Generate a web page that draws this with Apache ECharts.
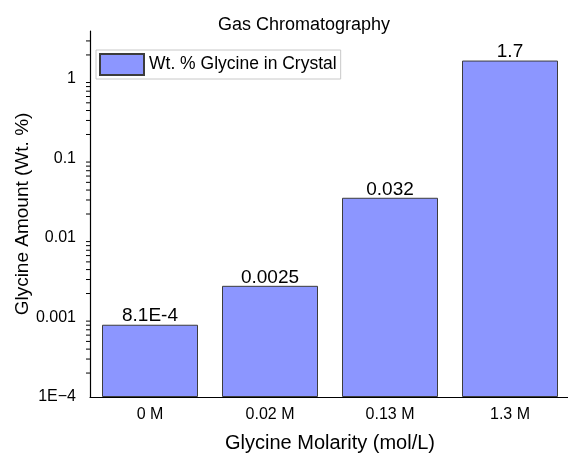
<!DOCTYPE html>
<html lang="en">
<head>
    <meta charset="UTF-8">
    <title>Gas Chromatography</title>
    <style>
        html, body { margin: 0; padding: 0; background: #fff; }
        #chart { width: 568px; height: 453px; }
    </style>
</head>
<body>
    <div id="chart"></div>
    <script src="https://cdn.jsdelivr.net/npm/echarts@6/dist/echarts.min.js"></script>
    <script type="text/javascript">
        // data
        var molarity = ['0 M', '0.02 M', '0.13 M', '1.3 M'];
        var glycineWt = [8.1e-4, 0.0025, 0.032, 1.7];
        var barLabels = ['8.1E-4', '0.0025', '0.032', '1.7'];
        var yTickLabels = ['1E\u22124', '0.001', '0.01', '0.1', '1'];
        // minor ticks of the log axis (2..9 in each decade)
        var yMinorTicks = [
            2e-4, 3e-4, 4e-4, 5e-4, 6e-4, 7e-4, 8e-4, 9e-4,
            0.002, 0.003, 0.004, 0.005, 0.006, 0.007, 0.008, 0.009,
            0.02, 0.03, 0.04, 0.05, 0.06, 0.07, 0.08, 0.09,
            0.2, 0.3, 0.4, 0.5, 0.6, 0.7, 0.8, 0.9,
            2, 3
        ];

        var font = 'Liberation Sans, Arial, sans-serif';
        var seriesName = 'Wt. % Glycine in Crystal';
        var chart = echarts.init(document.getElementById('chart'));

        var option = {
            animation: false,
            title: {
                text: 'Gas Chromatography',
                left: 213,
                top: 11,
                textStyle: { fontFamily: font, fontSize: 18, fontWeight: 'normal', color: '#000' }
            },
            legend: {
                data: [seriesName],
                left: 96,
                top: 50,
                padding: [3, 4, 3, 3],
                itemWidth: 44,
                itemHeight: 21,
                itemGap: 4,
                borderColor: '#c8c8c8',
                borderWidth: 1,
                borderRadius: 0,
                icon: 'rect',
                textStyle: { fontFamily: font, fontSize: 17.5, color: '#000' }
            },
            grid: { left: 90, top: 31, width: 480, bottom: 56, containLabel: false, outerBoundsMode: 'none' },
            xAxis: [{
                type: 'category',
                position: 'bottom',
                data: molarity,
                name: 'Glycine Molarity (mol/L)',
                nameLocation: 'middle',
                nameGap: 36,
                nameMoveOverlap: false,
                nameTextStyle: { fontFamily: font, fontSize: 20, color: '#000' },
                axisLine: { lineStyle: { color: '#000', width: 1.2 } },
                axisTick: { alignWithLabel: true, length: 6, lineStyle: { color: '#000', width: 1.2 } },
                axisLabel: { margin: 10, fontFamily: font, fontSize: 16, color: '#000' }
            }, {
                // only the small ticks between the categories
                type: 'category',
                position: 'bottom',
                data: molarity,
                axisLine: { show: false },
                axisTick: { length: 3, lineStyle: { color: '#000', width: 1.2 } },
                axisLabel: { show: false }
            }],
            yAxis: {
                type: 'log',
                min: 1e-4,
                max: 4,
                startValue: 1e-4,
                name: 'Glycine Amount (Wt. %)',
                nameLocation: 'middle',
                nameGap: 58,
                nameMoveOverlap: false,
                nameTextStyle: { fontFamily: font, fontSize: 19, color: '#000' },
                axisLine: { show: true, lineStyle: { color: '#000', width: 1.2 } },
                axisTick: { length: 8, lineStyle: { color: '#000', width: 1.2 } },
                splitLine: { show: false },
                axisLabel: {
                    margin: 14,
                    fontFamily: font,
                    fontSize: 16,
                    color: '#000',
                    showMaxLabel: false,
                    formatter: function (v) {
                        var i = Math.round(Math.log10(v)) + 4;
                        if (Math.abs(Math.log10(v) - (i - 4)) > 1e-6) return '';
                        return yTickLabels[i] || '';
                    }
                }
            },
            series: [{
                name: seriesName,
                type: 'bar',
                data: glycineWt,
                barCategoryGap: '20%',
                itemStyle: { color: '#8c96ff', borderColor: '#3c3c3c', borderWidth: 1 },
                label: {
                    show: true,
                    position: 'top',
                    distance: -1,
                    fontFamily: font,
                    fontSize: 19,
                    color: '#000',
                    formatter: function (p) { return barLabels[p.dataIndex]; }
                }
            }, {
                type: 'custom',
                silent: true,
                data: yMinorTicks.map(function (v) { return [0, v]; }),
                renderItem: function (params, api) {
                    var y = api.coord([0, api.value(1)])[1];
                    var x = params.coordSys.x;
                    return {
                        type: 'line',
                        shape: { x1: x - 4, y1: y, x2: x, y2: y },
                        style: { stroke: '#000', lineWidth: 1 }
                    };
                }
            }]
        };

        chart.setOption(option);
    </script>
</body>
</html>
